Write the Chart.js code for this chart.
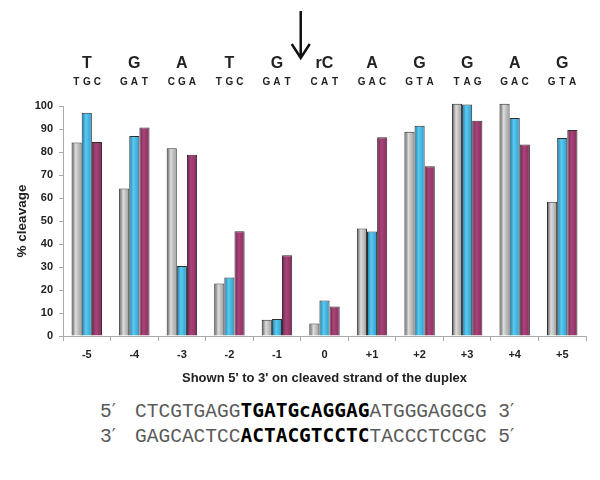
<!DOCTYPE html>
<html>
<head>
<meta charset="utf-8">
<script src="https://cdn.jsdelivr.net/npm/chart.js@4.4.0/dist/chart.umd.min.js"></script>
<style>
  body { margin: 0; background: #fff; }
  #wrap { position: relative; width: 600px; height: 390px; }
  .seq {
    position: absolute; left: 100px; top: 399px;
    font-family: "Liberation Mono", monospace; font-size: 19.5px;
    line-height: 23px; color: #5a5a5a; white-space: pre;
  }
  .seq b { font-family: "DejaVu Sans Mono", monospace; font-weight: bold; color: #000; font-size: 19.5px; }
  .seq i { font-style: normal; font-family: "DejaVu Serif", serif; font-size: 18px;
           display: inline-block; width: 11.7px; }
</style>
</head>
<body>
<div id="wrap"><canvas id="cleavageChart"></canvas></div>
<div class="seq">5<i>′</i> CTCGTGAGG<b>TGATGcAGGAG</b>ATGGGAGGCG 3<i>′</i>
3<i>′</i> GAGCACTCC<b>ACTACGTCCTC</b>TACCCTCCGC 5<i>′</i></div>
<script>
// positions on the cleaved strand, relative to the ribo-C
const positions = ['-5', '-4', '-3', '-2', '-1', '0', '+1', '+2', '+3', '+4', '+5'];
const bases = ['T', 'G', 'A', 'T', 'G', 'rC', 'A', 'G', 'G', 'A', 'G'];
const codons = ['TGC', 'GAT', 'CGA', 'TGC', 'GAT', 'CAT', 'GAC', 'GTA', 'TAG', 'GAC', 'GTA'];

// % cleavage
const grayVals = [84.1, 64.1, 81.6, 22.8, 7.1, 5.4, 46.7, 88.8, 101, 101, 58.4];
const blueVals = [97.1, 87.0, 30.4, 25.4, 7.4, 15.4, 45.4, 91.4, 100.6, 94.8, 86.1];
const purpleVals = [84.3, 90.7, 78.8, 45.5, 35.1, 12.8, 86.4, 73.8, 93.6, 83.3, 89.6];

// horizontal "cylinder" shading for each bar
function cylinder(stops) {
  return ctx => {
    const el = ctx.element;
    if (!el || el.width == null || isNaN(el.x)) return stops[1];
    const left = el.x - el.width / 2;
    const g = ctx.chart.ctx.createLinearGradient(left, 0, left + el.width, 0);
    g.addColorStop(0, stops[0]);
    g.addColorStop(0.4, stops[1]);
    g.addColorStop(1, stops[2]);
    return g;
  };
}

// bases, codons and the arrow above the plot
const headerPlugin = {
  id: 'header',
  afterDraw(chart) {
    const c = chart.ctx;
    const xs = chart.scales.x;
    c.save();
    c.fillStyle = '#222';
    c.textAlign = 'center';
    c.textBaseline = 'middle';
    bases.forEach((b, i) => {
      const x = xs.getPixelForValue(i);
      c.font = 'bold 16px "Liberation Sans", Arial, sans-serif';
      c.fillText(b, x, 64);
      c.font = 'bold 10px "Liberation Sans", Arial, sans-serif';
      const letters = codons[i].split('');
      letters.forEach((ch, k) => c.fillText(ch, x + (k - 1) * 10.5, 82));
    });
    // cleavage arrow between -1 and 0
    const ax = (xs.getPixelForValue(4) + xs.getPixelForValue(5)) / 2;
    c.strokeStyle = '#111';
    c.lineWidth = 2.5;
    c.beginPath();
    c.moveTo(ax, 11);
    c.lineTo(ax, 57);
    c.moveTo(ax - 9, 44);
    c.lineTo(ax, 58);
    c.lineTo(ax + 9, 44);
    c.stroke();
    c.restore();
  }
};

const tickFont = { family: '"Liberation Sans", Arial, sans-serif', size: 11, weight: 'bold' };
const titleFont = { family: '"Liberation Sans", Arial, sans-serif', size: 13, weight: 'bold' };

const chart = new Chart(document.getElementById('cleavageChart'), {
  type: 'bar',
  data: {
    labels: positions,
    datasets: [
      { data: grayVals, backgroundColor: cylinder(['#555555', '#dcdcdc', '#9a9a9a']) },
      { data: blueVals, backgroundColor: cylinder(['#1577a6', '#5ccaf0', '#2a9ccf']) },
      { data: purpleVals, backgroundColor: cylinder(['#74204c', '#a8447a', '#8a2c5c']) }
    ]
  },
  options: {
    responsive: true,
    maintainAspectRatio: false,
    animation: false,
    layout: { padding: { top: 106, right: 14, bottom: 0, left: 0 } },
    datasets: {
      bar: {
        categoryPercentage: 0.64,
        barPercentage: 1.0,
        borderColor: '#2e2e2e',
        borderWidth: 1,
        clip: false
      }
    },
    plugins: { legend: { display: false }, tooltip: { enabled: false } },
    scales: {
      x: {
        afterFit: s => { s.height = 54; },
        grid: { offset: true, drawOnChartArea: false, tickLength: 5, color: '#aaa' },
        border: { color: '#aaa' },
        ticks: { font: tickFont, color: '#222', padding: 7 },
        title: { display: true, text: "Shown 5' to 3' on cleaved strand of the duplex",
                 font: titleFont, color: '#222', padding: { top: 0, bottom: 4 } }
      },
      y: {
        min: 0,
        max: 100,
        afterFit: s => { s.width = 63; },
        grid: { drawOnChartArea: false, tickLength: 4, color: '#aaa' },
        border: { color: '#aaa' },
        ticks: { stepSize: 10, font: tickFont, color: '#222', padding: 6 },
        title: { display: true, text: '% cleavage', font: { ...titleFont, size: 13.5 }, color: '#222',
                 padding: { top: 14, bottom: 0 } }
      }
    }
  },
  plugins: [headerPlugin]
});

// second pass so the gradients can use the laid-out bar positions
chart.update('none');
</script>
</body>
</html>
